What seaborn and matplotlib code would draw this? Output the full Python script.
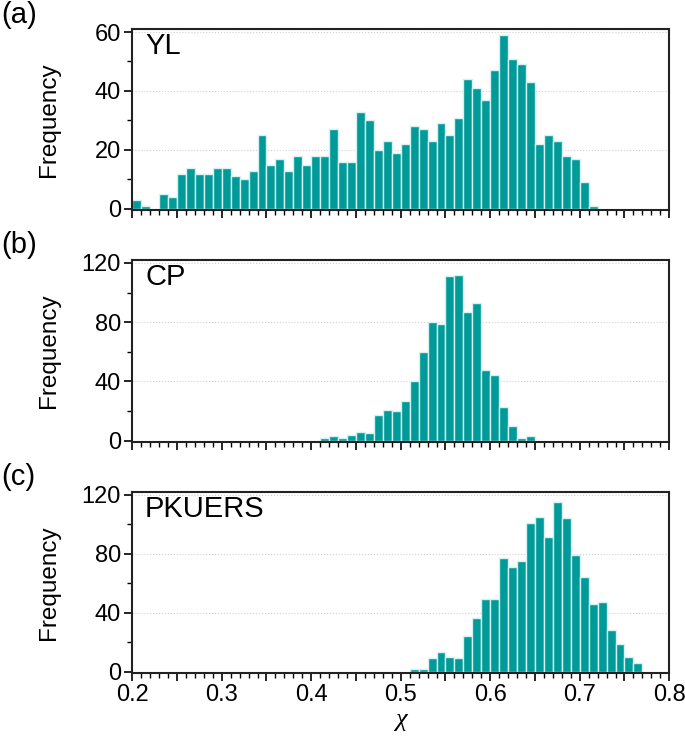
import numpy as np
import pandas as pd
import matplotlib
matplotlib.use('Agg')
import matplotlib.pyplot as plt
from matplotlib.ticker import MultipleLocator, FuncFormatter
import seaborn as sns

# bin edges of the histograms (width 0.01 on chi)
bin_edges = list(np.round(np.arange(0.20, 0.8001, 0.01), 2))

# counts per bin, starting at the given left edge
yl_start = 0.20
yl_counts = [3, 1, 0, 5, 4, 12, 14, 12, 12, 14, 14, 11, 10, 13, 25, 15, 17, 13,
             18, 15, 18, 18, 27, 16, 16, 33, 30, 20, 23, 19, 22, 28, 27, 23, 29,
             25, 31, 44, 41, 37, 47, 59, 51, 49, 43, 22, 25, 23, 18, 17, 9, 1]
cp_start = 0.41
cp_counts = [2, 3, 2, 4, 6, 5, 17, 21, 20, 27, 40, 60, 80, 79, 111, 112, 87, 93,
             48, 44, 23, 10, 2, 3]
pk_start = 0.51
pk_counts = [2, 2, 9, 13, 10, 9, 24, 36, 49, 49, 77, 71, 75, 101, 105, 91, 115,
             104, 79, 64, 46, 47, 28, 19, 10, 6]

panels = [
    ('(a)', 'YL', yl_start, yl_counts, [0, 20, 40, 60], 10, (-0.4, 61)),
    ('(b)', 'CP', cp_start, cp_counts, [0, 40, 80, 120], 20, (-0.8, 122)),
    ('(c)', 'PKUERS', pk_start, pk_counts, [0, 40, 80, 120], 20, (-0.8, 122)),
]

sns.set_style('ticks')
plt.rcParams['font.family'] = ['Liberation Sans', 'DejaVu Sans']
for key in ['text.color', 'axes.labelcolor', 'xtick.color', 'ytick.color']:
    plt.rcParams[key] = 'black'

fig = plt.figure(figsize=(6.85, 7.45), dpi=100)
axes_boxes = [(0.193, 0.718, 0.784, 0.243),
              (0.193, 0.407, 0.784, 0.244),
              (0.193, 0.097, 0.784, 0.243)]
letter_y = [0.980, 0.671, 0.360]

bar_color = '#009b98'

for (letter, name, start, counts, yticks, yminor, ylim), box, ly in zip(panels, axes_boxes, letter_y):
    ax = fig.add_axes(box)
    df = pd.DataFrame({
        'chi': np.round(start + 0.005 + 0.01 * np.arange(len(counts)), 3),
        'n': counts,
    })
    sns.histplot(data=df, x='chi', weights='n', bins=bin_edges, color=bar_color,
                 edgecolor='#d6f0ef', linewidth=1.0, alpha=1.0, ax=ax)
    # empty bins should not leave an outline on the baseline
    for p in ax.patches:
        if p.get_height() <= 0:
            p.set_visible(False)
    ax.set_xlim(0.2, 0.8)
    ax.set_ylim(*ylim)
    ax.set_yticks(yticks)
    ax.yaxis.set_minor_locator(MultipleLocator(yminor))
    ax.xaxis.set_major_locator(MultipleLocator(0.05))
    ax.xaxis.set_minor_locator(MultipleLocator(0.01))
    if letter == '(c)':
        ax.xaxis.set_major_formatter(FuncFormatter(
            lambda v, p: f'{v:.1f}' if abs(v * 10 - round(v * 10)) < 1e-6 else ''))
        ax.set_xlabel('χ', fontsize=19, labelpad=2, family='Liberation Serif',
                      style='italic')
    else:
        ax.xaxis.set_major_formatter(FuncFormatter(lambda v, p: ''))
        ax.set_xlabel('')
    ax.tick_params(axis='both', which='major', direction='out', length=6,
                   width=1.2, labelsize=17, pad=2, color='black')
    ax.tick_params(axis='both', which='minor', direction='out', length=3.5,
                   width=1.0, color='black')
    ax.set_ylabel('Frequency', fontsize=17.5)
    ax.yaxis.set_label_coords(-0.135, 0.5)
    ax.grid(axis='y', which='major', linestyle=':', color='#d0d0d0', linewidth=0.8)
    ax.set_axisbelow(True)
    for tick in ax.yaxis.get_major_ticks():
        if tick.get_loc() <= 0:
            tick.gridline.set_visible(False)
    for sp in ax.spines.values():
        sp.set_visible(True)
        sp.set_linewidth(1.5)
        sp.set_color('#222222')
    ax.text(0.024, 0.905, name, transform=ax.transAxes, fontsize=21,
            ha='left', va='center')
    fig.text(0.002, ly, letter, fontsize=21, ha='left', va='center')

fig.savefig('out.png', dpi=100)
